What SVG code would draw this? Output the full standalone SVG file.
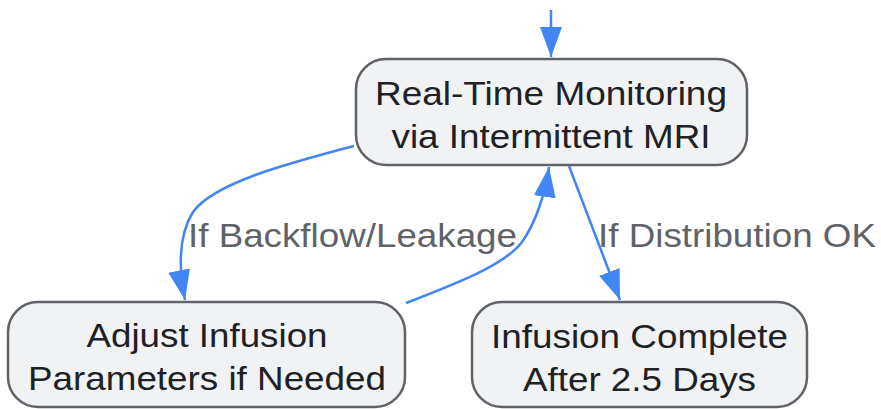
<svg xmlns="http://www.w3.org/2000/svg" width="881" height="409" viewBox="0 0 881 409">
<defs>
<style>
.node rect{fill:#f1f2f4;stroke:#5f6368;stroke-width:2.5}
.node text{font-family:"Liberation Sans",Arial,sans-serif;font-size:33.5px;fill:#202124;text-anchor:middle}
.edge{fill:none;stroke:#4285f4;stroke-width:2.5;marker-end:url(#arrow)}
.lbl{font-family:"Liberation Sans",Arial,sans-serif;font-size:33.5px;fill:#5f6368}
</style>
<marker id="arrow" markerUnits="userSpaceOnUse" markerWidth="32" markerHeight="24" viewBox="0 0 32 24" refX="30" refY="11" orient="auto">
<path d="M0,0 L30,11 L0,22 Z" fill="#4285f4"/>
</marker>
</defs>
<g id="connectors">
<path class="edge" d="M551,10 L551,57"/>
<path class="edge" d="M354,146 C290,163 215,182 193,212 C178,236 179,270 185,300"/>
<path class="edge" d="M406,303 C455,284 505,265 522,242 C535,224 545,195 549,167"/>
<path class="edge" d="M569,166 L620,300"/>
<text class="lbl" x="188" y="247" textLength="329" lengthAdjust="spacingAndGlyphs">If Backflow/Leakage</text>
<text class="lbl" x="598" y="247" textLength="278" lengthAdjust="spacingAndGlyphs">If Distribution OK</text>
</g>
<g id="node-monitoring" class="node">
<rect x="356" y="59" width="391" height="106" rx="30" ry="30"/>
<text x="551" y="105" textLength="352" lengthAdjust="spacingAndGlyphs">Real-Time Monitoring</text>
<text x="551" y="147.5" textLength="319" lengthAdjust="spacingAndGlyphs">via Intermittent MRI</text>
</g>
<g id="node-adjust" class="node">
<rect x="8" y="302" width="397" height="105" rx="30" ry="30"/>
<text x="207" y="347" textLength="241" lengthAdjust="spacingAndGlyphs">Adjust Infusion</text>
<text x="207" y="390" textLength="358" lengthAdjust="spacingAndGlyphs">Parameters if Needed</text>
</g>
<g id="node-complete" class="node">
<rect x="472" y="302" width="335" height="105" rx="30" ry="30"/>
<text x="639.5" y="348" textLength="297" lengthAdjust="spacingAndGlyphs">Infusion Complete</text>
<text x="639.5" y="391" textLength="233" lengthAdjust="spacingAndGlyphs">After 2.5 Days</text>
</g>
</svg>
